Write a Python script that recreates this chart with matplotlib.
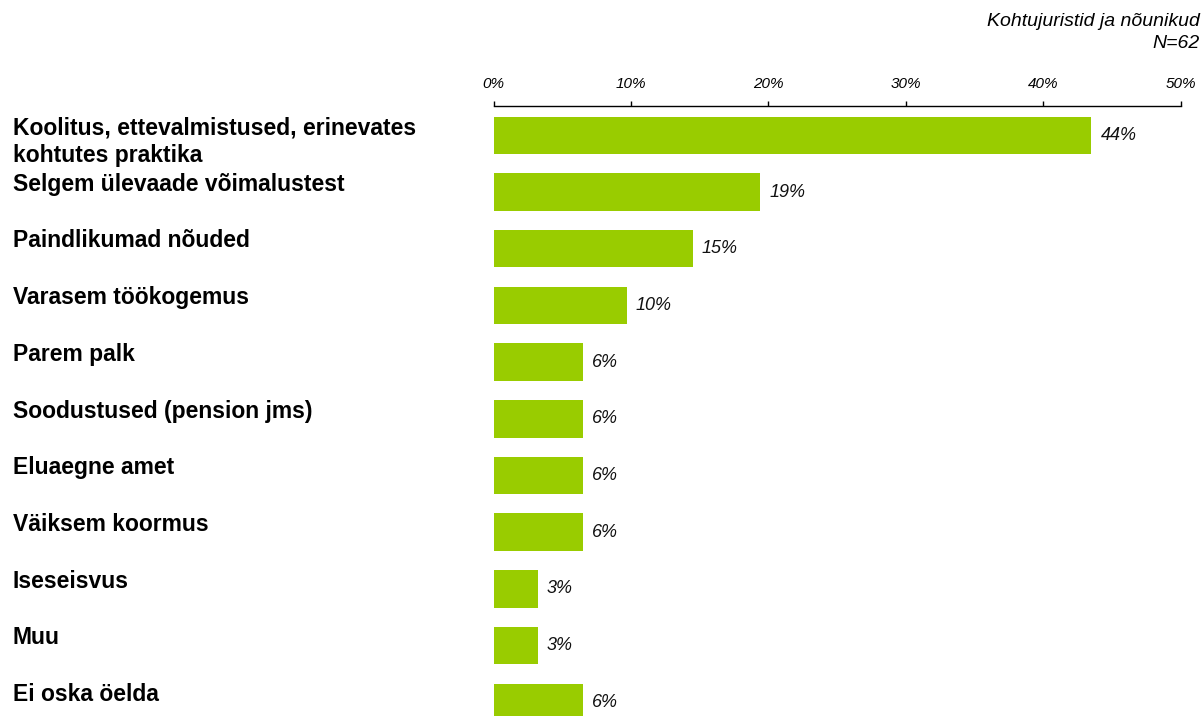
import matplotlib
matplotlib.use("Agg")
import matplotlib.pyplot as plt
import matplotlib.transforms as mtransforms
import numpy as np

categories = [
    "Koolitus, ettevalmistused, erinevates\nkohtutes praktika",
    "Selgem ülevaade võimalustest",
    "Paindlikumad nõuded",
    "Varasem töökogemus",
    "Parem palk",
    "Soodustused (pension jms)",
    "Eluaegne amet",
    "Väiksem koormus",
    "Iseseisvus",
    "Muu",
    "Ei oska öelda",
]
values = [43.5, 19.4, 14.5, 9.7, 6.5, 6.5, 6.5, 6.5, 3.2, 3.2, 6.5]
value_labels = ["44%", "19%", "15%", "10%", "6%", "6%", "6%", "6%", "3%", "3%", "6%"]
tick_values = [0, 10, 20, 30, 40, 50]
tick_labels = ["0%", "10%", "20%", "30%", "40%", "50%"]
title_lines = ["Kohtujuristid ja nõunikud", "N=62"]

W, H = 1203, 716
fig = plt.figure(figsize=(W / 100, H / 100), dpi=100)
plt.rcParams['font.family'] = ['Liberation Sans', 'DejaVu Sans']
narrow = ['Liberation Sans Narrow', 'Liberation Sans', 'DejaVu Sans']

ax_left, ax_right = 493.7, 1180.7
ax_top, ax_bot = 106, 716
ax = fig.add_axes([ax_left / W, 1 - ax_bot / H, (ax_right - ax_left) / W, (ax_bot - ax_top) / H])

step = 56.7
c0 = 135.3
y = np.arange(len(categories))
ax.barh(y, values, height=0.66, color="#99CC00", edgecolor="none")
ax.set_xlim(0, 50)
ax.set_ylim((ax_bot - c0) / step, (ax_top - c0) / step)

for s in ["bottom", "left", "right"]:
    ax.spines[s].set_visible(False)
ax.spines["top"].set_linewidth(1.0)
ax.spines["top"].set_color("black")
ax.xaxis.tick_top()
ax.set_xticks(tick_values)
ax.set_xticklabels(tick_labels, fontstyle="italic", fontsize=11, family=narrow)
ax.tick_params(axis="x", direction="out", length=3.8, width=1, pad=7, colors="black")
ax.set_yticks([])

trans = mtransforms.blended_transform_factory(fig.transFigure, ax.transData)
for i, lab in enumerate(categories):
    ax.text(13 / W, i - 0.34, lab, transform=trans, ha="left", va="top",
            fontsize=16.5, fontweight="bold", linespacing=1.25, color="black")

for i, (v, lab) in enumerate(zip(values, value_labels)):
    ax.annotate(lab, xy=(v, i), xytext=(6.5, 0), textcoords="offset points",
                ha="left", va="center", fontsize=13, fontstyle="italic", color="#111111")

fig.text(1200 / W, 1 - 21 / H, title_lines[0], ha="right", va="center",
         fontsize=14, fontstyle="italic", family=narrow)
fig.text(1200 / W, 1 - 44 / H, title_lines[1], ha="right", va="center",
         fontsize=14, fontstyle="italic", family=narrow)

fig.savefig("out.png", dpi=100)
